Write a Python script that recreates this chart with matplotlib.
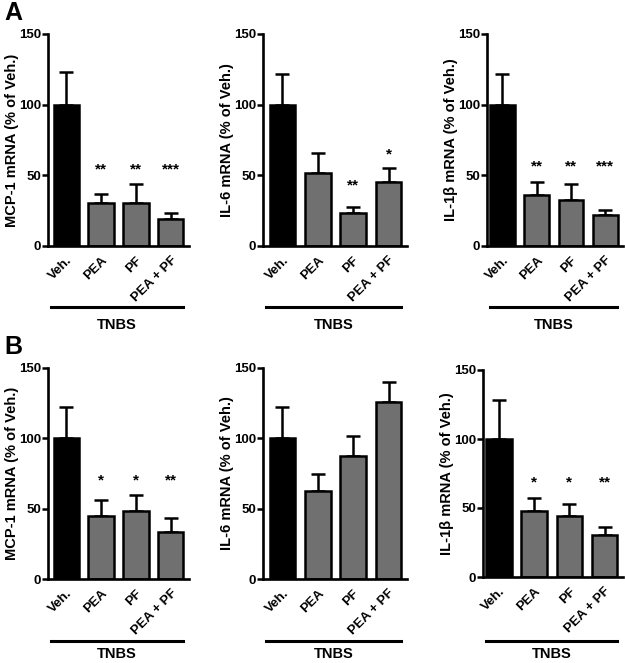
import matplotlib
matplotlib.use("Agg")
import matplotlib.pyplot as plt
from matplotlib.lines import Line2D

plt.rcParams['font.family'] = ['Liberation Sans', 'DejaVu Sans']
plt.rcParams['font.weight'] = 'bold'

categories = ["Veh.", "PEA", "PF", "PEA + PF"]
group_label = "TNBS"

# Panel A
a_mcp1 = [100, 30.5, 30.5, 19]
a_mcp1_err = [23, 6.5, 13.5, 4.6]
a_mcp1_stars = ["", "**", "**", "***"]
a_mcp1_star_y = [0, 54, 54, 54]

a_il6 = [100, 51.5, 23.6, 45.6]
a_il6_err = [21.7, 14.5, 4.3, 9.4]
a_il6_stars = ["", "", "**", "*"]
a_il6_star_y = [0, 0, 43, 65]

a_il1b = [100, 36, 32.4, 22.2]
a_il1b_err = [22, 9.4, 11.6, 3.3]
a_il1b_stars = ["", "**", "**", "***"]
a_il1b_star_y = [0, 56.5, 56.5, 56.5]

# Panel B
b_mcp1 = [100, 45, 48.3, 33.5]
b_mcp1_err = [22.4, 10.9, 11.4, 9.8]
b_mcp1_stars = ["", "*", "*", "**"]
b_mcp1_star_y = [0, 70, 70, 70]

b_il6 = [100, 62.8, 87.4, 125.6]
b_il6_err = [22, 11.8, 14.3, 14.2]
b_il6_stars = ["", "", "", ""]
b_il6_star_y = [0, 0, 0, 0]

b_il1b = [100, 48, 44.4, 30.6]
b_il1b_err = [28.5, 9.2, 8.2, 5.8]
b_il1b_stars = ["", "*", "*", "**"]
b_il1b_star_y = [0, 68.5, 68.5, 68.5]

ylabels = ["MCP-1 mRNA (% of Veh.)", "IL-6 mRNA (% of Veh.)", "IL-1\u03b2 mRNA (% of Veh.)"]
yticks = [0, 50, 100, 150]

W, H = 625, 663
fig = plt.figure(figsize=(W / 100, H / 100), dpi=100)

def px_axes(left, right, top, bottom):
    return fig.add_axes([left / W, 1 - bottom / H, (right - left) / W, (bottom - top) / H])

panels = [
    (a_mcp1, a_mcp1_err, a_mcp1_stars, a_mcp1_star_y, ylabels[0], (48, 189, 34, 246), -0.52),
    (a_il6, a_il6_err, a_il6_stars, a_il6_star_y, ylabels[1], (263, 407, 34, 246), -0.55),
    (a_il1b, a_il1b_err, a_il1b_stars, a_il1b_star_y, ylabels[2], (487, 623, 34, 246), -0.45),
    (b_mcp1, b_mcp1_err, b_mcp1_stars, b_mcp1_star_y, ylabels[0], (48, 189, 368, 579), -0.52),
    (b_il6, b_il6_err, b_il6_stars, b_il6_star_y, ylabels[1], (263, 407, 368, 579), -0.55),
    (b_il1b, b_il1b_err, b_il1b_stars, b_il1b_star_y, ylabels[2], (483, 623, 370, 577), -0.45),
]

colors = ["black", "#707070", "#707070", "#707070"]

for i, (vals, errs, stars, stary, ylab, box, xl) in enumerate(panels):
    ax = px_axes(*box)
    x = list(range(len(categories)))
    ax.bar(x, vals, width=0.72, color=colors, edgecolor="black", linewidth=1.8, zorder=2)
    ax.errorbar(x, vals, yerr=[[0] * 4, errs], fmt="none", ecolor="black",
                elinewidth=1.8, capsize=5, capthick=1.8, zorder=1)
    for xi, s, sy in zip(x, stars, stary):
        if s:
            ax.text(xi, sy, s, ha="center", va="center", fontsize=11, fontweight="bold")
    ax.set_ylim(0, 150)
    ax.set_xlim(xl, 3.52)
    ax.set_yticks(yticks)
    ax.set_yticklabels([str(t) for t in yticks], fontsize=9.5, fontweight="bold")
    ax.set_xticks(x)
    ax.set_xticklabels(categories, rotation=45, ha="right", rotation_mode="anchor",
                       fontsize=9.5, fontweight="bold")
    ax.tick_params(axis="x", length=0, pad=6)
    ax.tick_params(axis="y", length=4, width=1.8, pad=1)
    for sp in ["top", "right"]:
        ax.spines[sp].set_visible(False)
    for sp in ["left", "bottom"]:
        ax.spines[sp].set_linewidth(1.9)
    ax.set_ylabel(ylab, fontsize=10.5, fontweight="bold", labelpad=0)

    left, right, top, bottom = box
    row_a = i < 3
    ly = 307 if row_a else 641
    ty = 325 if row_a else 654
    fig.add_artist(Line2D([(left + 3) / W, (right - 6) / W], [1 - ly / H, 1 - ly / H],
                          color="black", linewidth=2.2, transform=fig.transFigure))
    fig.text((left + right - 3) / 2 / W, 1 - ty / H, group_label, ha="center", va="center",
             fontsize=10.5, fontweight="bold")

fig.text(4 / W, 1 - 13 / H, "A", fontsize=18, fontweight="bold", va="center", ha="left")
fig.text(4 / W, 1 - 347 / H, "B", fontsize=18, fontweight="bold", va="center", ha="left")

fig.savefig("out.png", dpi=100)
